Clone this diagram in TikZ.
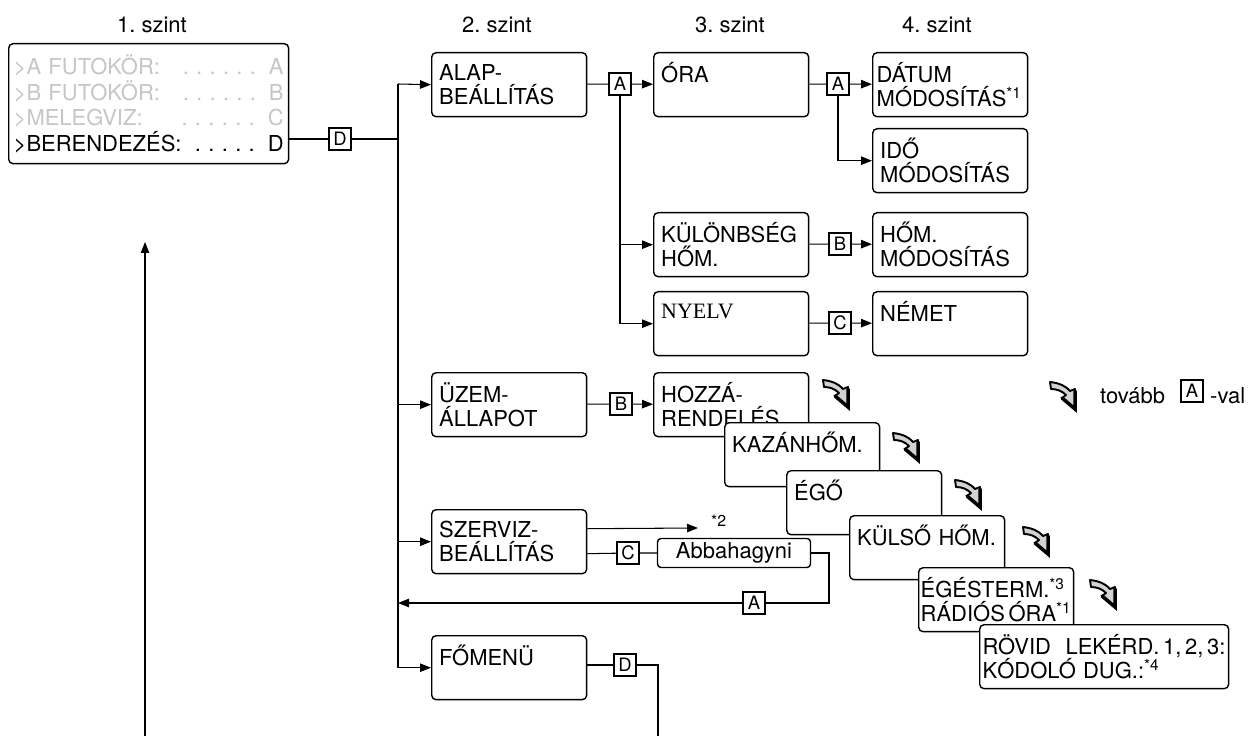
\documentclass[tikz,border=0pt]{standalone}
\usepackage{fontspec}
\setmainfont{TeX Gyre Heros}
\newfontfamily\timesfont{Liberation Serif}
\usetikzlibrary{arrows.meta}

\begin{document}
\frenchspacing
\begin{tikzpicture}[
  x=0.02cm, y=-0.02cm,
  every node/.style={font=\fontsize{12.5}{13.7}\selectfont},
  level/.style={anchor=center},
  menubox/.style={draw, fill=white, line width=0.8pt, rounded corners=2.5pt, anchor=north west,
    minimum width=3.1cm, minimum height=1.28cm, text width=2.8cm, inner xsep=0.15cm, align=left},
  smallbox/.style={draw, fill=white, line width=0.8pt, rounded corners=2pt,
    minimum width=3.06cm, minimum height=0.58cm, inner sep=0pt},
  keybox/.style={draw, fill=white, line width=0.7pt, minimum size=0.44cm, inner sep=0pt,
    font=\fontsize{10.5}{12}\selectfont},
  conn/.style={draw, line width=0.6pt},
  arr/.style={conn, -{Triangle[length=0.22cm, width=0.17cm]}},
  tovabb/.pic={
    \filldraw[fill=gray!35, line width=1.1pt, line join=round]
      (0,0) .. controls (9,1) and (16,4) .. (20,9) -- (25,7) -- (25,27)
      -- (12,16) -- (16,13) .. controls (12,9) and (7,7) .. (1,7) -- cycle;
    \draw[line width=2pt, line cap=round] (12,16) -- (25,27) -- (25,9);
  }
]
\useasboundingbox (0,0) rectangle (1260,736);

% szint labels
\node[level] (lev1) at (152,25) {1. szint};
\node[level] (lev2) at (497,25) {2. szint};
\node[level] (lev3) at (730,25) {3. szint};
\node[level] (lev4) at (937,25) {4. szint};

% main menu
\node[menubox, minimum width=5.6cm, minimum height=2.4cm, text width=5.4cm, inner xsep=0.1cm,
  font=\fontsize{12.5}{14.5}\selectfont] (berend) at (8,43) {%
  \textcolor{gray!45}{>A FUTOKÖR:\hfill. . . . . .\hspace{0.26cm}A}\\
  \textcolor{gray!45}{>B FUTOKÖR:\hfill. . . . . .\hspace{0.26cm}B}\\
  \textcolor{gray!45}{>MELEGVIZ:\hfill. . . . . .\hspace{0.26cm}C}\\
  >BERENDEZÉS:\hfill. . . . .\hspace{0.26cm}D};

% 2. szint
\node[menubox] (alap) at (431,52) {ALAP-\\BEÁLLÍTÁS};
\node[menubox] (uzem) at (431,372) {ÜZEM-\\ÁLLAPOT};
\node[menubox] (szerviz) at (431,509) {SZERVIZ-\\BEÁLLÍTÁS};
\node[menubox] (fomenu) at (431,635) {FŐMENÜ\\~};

% 3. szint
\node[menubox] (ora) at (653,52) {ÓRA\\~};
\node[menubox] (kulonb) at (653,212) {KÜLÖNBSÉG\\HŐM.};
\node[menubox] (nyelv) at (653,291) {{\timesfont NYELV}\\~};
\node[menubox] (hozza) at (653,372) {HOZZÁ-\\RENDELÉS};
\node[menubox] (kazan) at (724,422) {KAZÁNHŐM.\\~};
\node[menubox] (ego) at (786,470) {ÉGŐ\\~};
\node[menubox] (kulso) at (849,515) {KÜLSŐ HŐM.\\~};
\node[menubox, text width=3.02cm, inner xsep=0.04cm] (egest) at (918,567)
  {ÉGÉSTERM.\textsuperscript{*3}\\RÁDIÓS\,ÓRA\textsuperscript{*1}};
\node[menubox, minimum width=4.98cm, text width=4.86cm, inner xsep=0.06cm] (rovid) at (979,624)
  {RÖVID\ \ LEKÉRD.\,1,\,2,\,3:\\KÓDOLÓ DUG.:\textsuperscript{*4}};
\node[smallbox] (abba) at (734,553) {Abbahagyni};

% 4. szint
\node[menubox, text width=2.94cm, inner xsep=0.08cm] (datum) at (872,52) {DÁTUM\\MÓDOSÍTÁS\textsuperscript{*1}};
\node[menubox] (ido) at (872,128) {IDŐ\\MÓDOSÍTÁS};
\node[menubox] (hom) at (872,212) {HŐM.\\MÓDOSÍTÁS};
\node[menubox] (nemet) at (872,291) {NÉMET\\~};

% keys
\node[keybox] (keyD1) at (340,139) {D};
\node[keybox] (keyA1) at (620,84) {A};
\node[keybox] (keyA2) at (838,84) {A};
\node[keybox] (keyB2) at (840,244) {B};
\node[keybox] (keyC2) at (840,323) {C};
\node[keybox] (keyB1) at (621,404) {B};
\node[keybox] (keyC1) at (628,553) {C};
\node[keybox] (keyA3) at (754,603) {A};
\node[keybox] (keyD2) at (625,665) {D};

\coordinate (trunktop) at (398,84);
\coordinate (trunkbot) at (trunktop |- fomenu.west);
\coordinate (ret) at (trunktop |- keyA3);
\coordinate (retcorner) at (829,603);
\coordinate (star2) at (698,528);
\coordinate (down) at (658,736);
\coordinate (uptail) at (145,736);
\coordinate (uphead) at (145,242);
\node[font=\fontsize{9}{10}\selectfont, anchor=west] (note2) at (705,521) {*2};

% connectors
\draw[conn] (berend.east |- keyD1) -- (keyD1) -- (keyD1 -| trunktop);
\draw[conn] (trunktop) -- (trunkbot);
\draw[arr] (trunktop) -- (alap.west);
\draw[arr] (trunktop |- uzem.west) -- (uzem.west);
\draw[arr] (trunktop |- szerviz.west) -- (szerviz.west);
\draw[arr] (trunkbot) -- (fomenu.west);

\draw[conn] (alap) -- (keyA1);
\draw[arr] (keyA1) -- (ora);
\draw[arr] (keyA1.south) |- (nyelv.west);
\draw[arr] (keyA1 |- kulonb.west) -- (kulonb.west);
\draw[conn] (ora) -- (keyA2);
\draw[arr] (keyA2) -- (datum);
\draw[arr] (keyA2.south) |- (ido.west);
\draw[conn] (kulonb) -- (keyB2);
\draw[arr] (keyB2) -- (hom);
\draw[conn] (nyelv) -- (keyC2);
\draw[arr] (keyC2) -- (nemet);

\draw[conn] (uzem) -- (keyB1);
\draw[arr] (keyB1) -- (hozza);

\draw[arr] ([yshift=0.26cm]szerviz.east) -- (star2);
\draw[conn] ([yshift=-0.24cm]szerviz.east) -- (keyC1) -- (abba);
\draw[conn] (abba.east) -| (retcorner) -- (keyA3);
\draw[arr] (keyA3) -- (ret);

\draw[conn] (fomenu.east |- keyD2) -- (keyD2) -| (down);
\draw[arr] (uptail) -- (uphead);

% tovabb marks
\foreach \px/\py in {823/380, 893/433, 955/480, 1023/527, 1090/580}
  \pic at (\px,\py) {tovabb};

% legend
\pic at (1050,382) {tovabb};
\node[anchor=west] (legtext) at (1094,396) {tovább};
\node[keybox] (keyleg) at (1192,391) {A};
\node[anchor=west] (legval) at (1204,396) {-val};
\end{tikzpicture}
\end{document}
